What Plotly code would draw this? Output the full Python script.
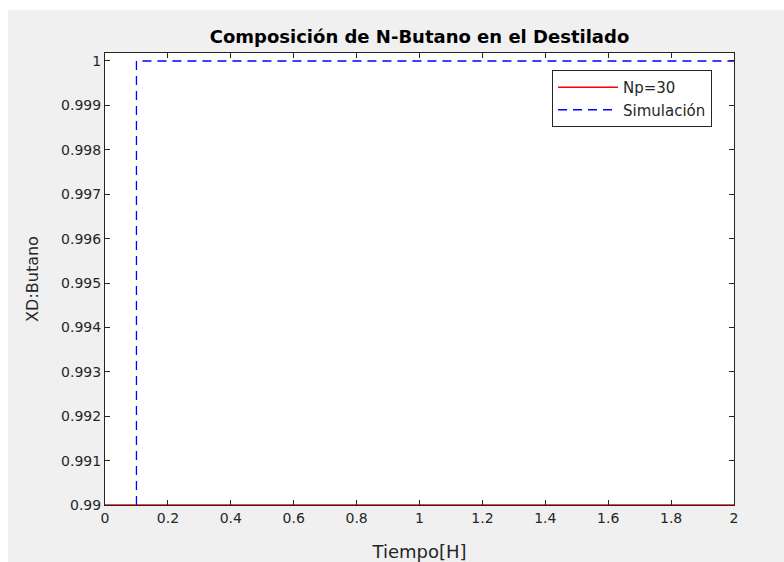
import plotly.graph_objects as go

# Series values
t_np30 = [0.0, 2.0]
xd_np30 = [0.99, 0.99]

t_sim = [0.1, 0.1, 2.0]
xd_sim = [0.99, 1.0, 1.0]

# Tick positions and labels
x_ticks = [0, 0.2, 0.4, 0.6, 0.8, 1.0, 1.2, 1.4, 1.6, 1.8, 2.0]
x_labels = ["0", "0.2", "0.4", "0.6", "0.8", "1", "1.2", "1.4", "1.6", "1.8", "2"]
y_ticks = [0.990, 0.991, 0.992, 0.993, 0.994, 0.995, 0.996, 0.997, 0.998, 0.999, 1.0]
y_labels = ["0.99", "0.991", "0.992", "0.993", "0.994", "0.995", "0.996",
            "0.997", "0.998", "0.999", "1"]

FONT = "DejaVu Sans, Arial, Helvetica, sans-serif"
AX = "#262626"
BG = "#f0f0f0"

fig = go.Figure()
fig.add_trace(go.Scatter(x=t_np30, y=xd_np30, mode="lines", name="Np=30",
                         line=dict(color="#ff0000", width=1.5)))
fig.add_trace(go.Scatter(x=t_sim, y=xd_sim, mode="lines", name="Simulación",
                         line=dict(color="#0000ff", width=1.3, dash="9px,6px")))

W, H = 784, 562
L, R, T, B = 105, 50, 53, 57
pw, ph = W - L - R, H - T - B

def px_x(p):
    return (p - L) / pw

def px_y(p):
    return (H - B - p) / ph

fig.update_layout(
    width=W, height=H,
    margin=dict(l=L, r=R, t=T, b=B),
    paper_bgcolor=BG, plot_bgcolor="white",
    font=dict(family=FONT, size=14, color=AX),
    title=dict(text="<b>Composición de N-Butano en el Destilado</b>",
               x=0.5, xref="paper", xanchor="center",
               y=1 - 37 / H, yanchor="middle",
               font=dict(size=18, color="black")),
    showlegend=True,
    legend=dict(x=px_x(552), y=px_y(70), xanchor="left", yanchor="top",
                bgcolor="white", bordercolor=AX, borderwidth=1,
                font=dict(size=15, color=AX), itemwidth=60,
                tracegroupgap=0),
    shapes=[
        dict(type="rect", xref="paper", yref="paper",
             x0=px_x(-10), x1=px_x(W + 10), y0=px_y(10), y1=px_y(-10),
             fillcolor="white", line=dict(width=0), layer="below"),
        dict(type="rect", xref="paper", yref="paper",
             x0=px_x(-10), x1=px_x(8), y0=px_y(H + 10), y1=px_y(-10),
             fillcolor="white", line=dict(width=0), layer="below"),
    ],
)

fig.update_xaxes(range=[0, 2], tickvals=x_ticks, ticktext=x_labels,
                 ticks="inside", ticklen=5, tickcolor=AX, tickwidth=1,
                 showline=True, linecolor=AX, linewidth=1, mirror="ticks",
                 showgrid=False, zeroline=False, automargin=False,
                 tickfont=dict(size=14, color=AX),
                 title=dict(text="Tiempo[H]", standoff=25,
                            font=dict(size=18, color=AX)))
fig.update_yaxes(range=[0.99, 1.00018], tickvals=y_ticks, ticktext=y_labels,
                 ticks="inside", ticklen=5, tickcolor=AX, tickwidth=1,
                 showline=True, linecolor=AX, linewidth=1, mirror="ticks",
                 showgrid=False, zeroline=False, automargin=False,
                 tickfont=dict(size=14, color=AX),
                 title=dict(text="XD:Butano", standoff=18,
                            font=dict(size=16, color=AX)))

fig.write_html("out.html")
